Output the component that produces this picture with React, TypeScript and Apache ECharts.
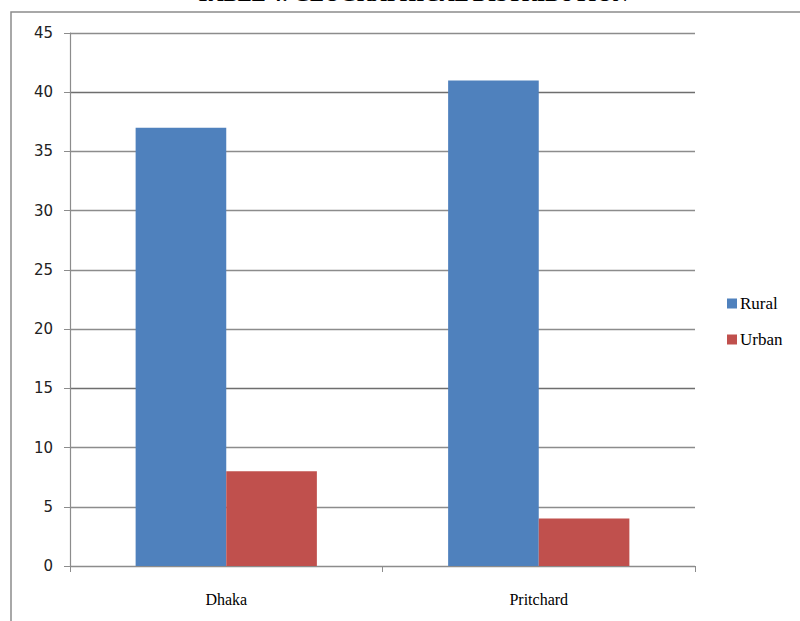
import React, { useEffect, useRef } from "react";
import * as echarts from "echarts";

const categories = ["Dhaka", "Pritchard"];
const rural = [37, 41];
const urban = [8, 4];
const seriesNames = ["Rural", "Urban"];
const title = "TABLE 4: GEOGRAPHICAL DISTRIBUTION";

export default function App() {
  const ref = useRef<HTMLDivElement>(null);
  useEffect(() => {
    const chart = echarts.init(ref.current!, null, { renderer: "svg" });
    const g = "#8c8c8c";
    const d = "#6e6e6e";
    chart.setOption({
      animation: false,
      backgroundColor: "#ffffff",
      graphic: [
        {
          type: "rect",
          shape: { x: 11, y: 12, width: 800, height: 620 },
          style: { fill: "none", stroke: "#8c8c8c", lineWidth: 1.5 },
          silent: true,
        },
        {
          type: "text",
          x: 412,
          y: 4,
          style: {
            text: title,
            fill: "#000",
            font: "bold 21px 'Liberation Serif'",
            textAlign: "center",
            textVerticalAlign: "bottom",
          },
        },
      ],
      legend: {
        orient: "vertical",
        left: 722,
        top: 290,
        itemWidth: 10,
        itemHeight: 10,
        itemGap: 19,
        icon: "rect",
        data: seriesNames,
        textStyle: { fontFamily: "Liberation Serif", fontSize: 17, color: "#000", padding: [0, 0, 0, -2] },
      },
      grid: { left: 70, top: 33, right: 105, bottom: 55 },
      xAxis: {
        type: "category",
        data: categories,
        axisLine: { lineStyle: { color: g, width: 1.2 } },
        axisTick: { show: true, length: 6, lineStyle: { color: g } },
        axisLabel: { fontFamily: "Liberation Serif", fontSize: 16, color: "#000", margin: 25 },
      },
      yAxis: {
        type: "value",
        min: 0,
        max: 45,
        interval: 5,
        axisLine: { show: true, lineStyle: { color: g, width: 1.2 } },
        axisTick: { show: true, length: 6, lineStyle: { color: g } },
        axisLabel: { fontFamily: "DejaVu Sans", fontSize: 15, color: "#222", margin: 17 },
        splitLine: { lineStyle: { color: [g, g, g, d, g, g, g, g, d, g], width: 1.3 } },
      },
      series: [
        {
          name: "Rural",
          type: "bar",
          data: rural,
          barGap: "0%",
          barCategoryGap: "42%",
          itemStyle: { color: "#4F81BD" },
        },
        {
          name: "Urban",
          type: "bar",
          data: urban,
          itemStyle: { color: "#C0504D" },
        },
      ],
    });
    return () => chart.dispose();
  }, []);
  return (
    <div
      ref={ref}
      style={{ position: "absolute", left: 0, top: 0, width: 800, height: 621 }}
    />
  );
}
